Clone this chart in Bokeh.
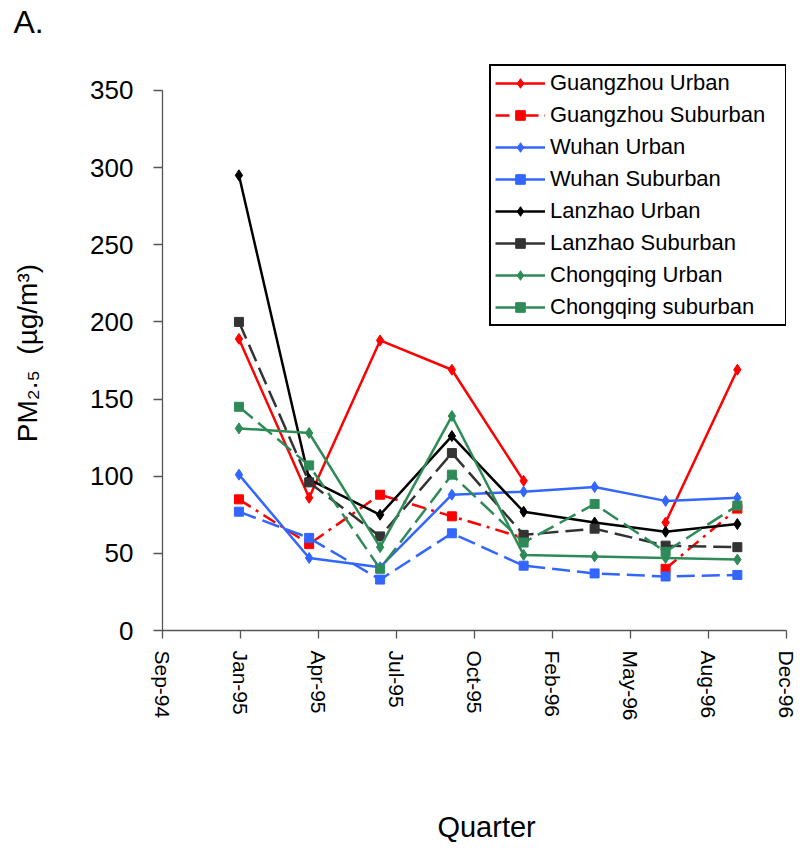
import math
import numpy as np
from bokeh.plotting import figure
from bokeh.models import Range1d, FixedTicker, Legend, LegendItem
from bokeh.embed import file_html
from bokeh.resources import INLINE

nan = float("nan")

# ---------------- data ----------------
quarter_dates = ["1995-01-01", "1995-04-01", "1995-07-01", "1995-10-01",
                 "1996-01-01", "1996-04-01", "1996-07-01", "1996-10-01"]
tick_dates = ["1994-09-25", "1995-01-03", "1995-04-13", "1995-07-22", "1995-10-30",
              "1996-02-07", "1996-05-17", "1996-08-25", "1996-12-03"]
tick_labels = ["Sep-94", "Jan-95", "Apr-95", "Jul-95", "Oct-95",
               "Feb-96", "May-96", "Aug-96", "Dec-96"]
y_ticks = [0, 50, 100, 150, 200, 250, 300, 350]

guangzhou_urban = [189, 86, 188, 169, 97, nan, 70, 169]
guangzhou_suburban = [85, 56, 88, 74, 60, nan, 40, 79]
wuhan_urban = [101, 47, 41, 88, 90, 93, 84, 86]
wuhan_suburban = [77, 60, 33, 63, 42, 37, 35, 36]
lanzhao_urban = [295, 98, 75, 126, 77, 70, 64, 69]
lanzhao_suburban = [200, 96, 61, 115, 62, 66, 55, 54]
chongqing_urban = [131, 128, 54, 139, 49, 48, 47, 46]
chongqing_suburban = [145, 107, 40, 101, 57, 82, 51, 81]

series_names = ["Guangzhou Urban", "Guangzhou Suburban", "Wuhan Urban", "Wuhan Suburban",
                "Lanzhao Urban", "Lanzhao Suburban", "Chongqing Urban", "Chongqing suburban"]
series_values = [guangzhou_urban, guangzhou_suburban, wuhan_urban, wuhan_suburban,
                 lanzhao_urban, lanzhao_suburban, chongqing_urban, chongqing_suburban]

# ---------------- styles ----------------
RED, BLUE, BLACK, DGRAY, GREEN = "#FF0000", "#3366FF", "#000000", "#333333", "#2E8B57"
series_colors = [RED, RED, BLUE, BLUE, BLACK, DGRAY, GREEN, GREEN]
series_dash = ["solid", "14 6 3 6", "solid", "18 7", "solid", "18 7", "solid", "18 7"]
legend_dash = ["solid", "14 6 3 6", "solid", "solid", "solid", "solid", "solid", "solid"]
series_marker = ["diamond", "square"] * 4
series_msize = [11, 9] * 4

origin = np.datetime64(tick_dates[0])
x_days = (np.array(quarter_dates, dtype="datetime64[D]") - origin).astype(int).tolist()
tick_days = (np.array(tick_dates, dtype="datetime64[D]") - origin).astype(int).tolist()

FONT = "Liberation Sans"
NB = "\u00a0"

p = figure(width=800, height=845, output_backend="svg", toolbar_location=None,
           x_range=Range1d(tick_days[0], tick_days[-1]), y_range=Range1d(0, 379.8),
           min_border_left=162, min_border_right=14, min_border_top=44, min_border_bottom=214)
p.outline_line_color = None
p.xgrid.visible = False
p.ygrid.visible = False
p.background_fill_color = "white"
p.border_fill_color = "white"

# panel letter as the plot title
p.title.text = "A."
p.title.align = "left"
p.title.offset = -149
p.title.text_font = FONT
p.title.text_font_size = "32px"
p.title.text_font_style = "normal"
p.title.text_color = "black"
p.title.vertical_align = "top"
p.title.standoff = 6

# axes
AX_COLOR = "#555555"
p.yaxis.ticker = FixedTicker(ticks=y_ticks)
p.yaxis.bounds = (y_ticks[0], y_ticks[-1])
p.yaxis.major_tick_out = 9
p.yaxis.major_tick_in = 0
p.yaxis.minor_tick_out = 0
p.yaxis.minor_tick_in = 0
p.yaxis.major_label_standoff = 20
p.yaxis.major_label_text_font = FONT
p.yaxis.major_label_text_font_size = "26px"
p.yaxis.major_label_text_color = "black"
p.yaxis.axis_line_color = AX_COLOR
p.yaxis.major_tick_line_color = AX_COLOR
p.yaxis.axis_line_width = 1.3
p.yaxis.major_tick_line_width = 1.3
p.yaxis.axis_label = "PM\u2082.\u2085" + NB + NB + "(\u00b5g/m\u00b3)" + NB * 4
p.yaxis.axis_label_text_font = FONT
p.yaxis.axis_label_text_font_size = "28px"
p.yaxis.axis_label_text_font_style = "normal"
p.yaxis.axis_label_text_color = "black"
p.yaxis.axis_label_standoff = 44

p.xaxis.ticker = FixedTicker(ticks=tick_days)
p.xaxis.major_label_overrides = {d: l for d, l in zip(tick_days, tick_labels)}
p.xaxis.major_label_orientation = -math.pi / 2
p.xaxis.major_tick_out = 8
p.xaxis.major_tick_in = 0
p.xaxis.minor_tick_out = 0
p.xaxis.minor_tick_in = 0
p.xaxis.major_label_standoff = 12
p.xaxis.major_label_text_font = FONT
p.xaxis.major_label_text_font_size = "21px"
p.xaxis.major_label_text_color = "black"
p.xaxis.axis_line_color = AX_COLOR
p.xaxis.major_tick_line_color = AX_COLOR
p.xaxis.axis_line_width = 1.3
p.xaxis.major_tick_line_width = 1.3
p.xaxis.axis_label = NB * 3 + "Quarter"
p.xaxis.axis_label_text_font = FONT
p.xaxis.axis_label_text_font_size = "29px"
p.xaxis.axis_label_text_font_style = "normal"
p.xaxis.axis_label_text_color = "black"
p.xaxis.axis_label_standoff = 87

# series
items = []
for name, vals, col, dash, ldash, mk, ms in zip(series_names, series_values, series_colors,
                                                 series_dash, legend_dash, series_marker, series_msize):
    p.line(x_days, vals, line_color=col, line_width=2.5, line_dash=dash)
    p.scatter(x_days, vals, marker=mk, size=ms, fill_color=col, line_color=col)
    # legend swatches (styled like the original legend); no visible marks in the plot
    lr = p.line([nan], [nan], line_color=col, line_width=2.5, line_dash=ldash)
    sr = p.scatter([nan], [nan], marker=mk, size=ms - 1, fill_color=col, line_color=col)
    items.append(LegendItem(label=name, renderers=[lr, sr]))

# legend placed by its bottom-left corner (screen px inside the frame)
legend = Legend(items=items, location=(327, 304), margin=0, padding=4, spacing=6,
                glyph_width=50, glyph_height=24, label_height=24, label_width=231,
                label_standoff=5, label_text_font=FONT, label_text_font_size="22px",
                label_text_color="black", border_line_color="black", border_line_width=2,
                border_line_alpha=1.0, background_fill_color="white", background_fill_alpha=1)
p.add_layout(legend)

open("out.html", "w").write(file_html(p, INLINE))
